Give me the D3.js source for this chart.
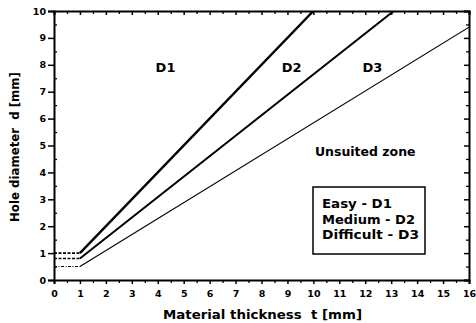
<!DOCTYPE html>
<html><head><meta charset="utf-8">
<script src="https://cdn.jsdelivr.net/npm/d3@7"></script>
<style>
body{margin:0;background:#fff;}
text{font-family:"DejaVu Sans",sans-serif;font-weight:bold;fill:#000;}
</style></head>
<body><svg id="c" width="476" height="323"></svg>
<script>
const xTicks = [0,1,2,3,4,5,6,7,8,9,10,11,12,13,14,15,16];
const yTicks = [0,1,2,3,4,5,6,7,8,9,10];
const seriesNames = ["D1","D2","D3"];
const flatT = [0,1];
const flatD1 = [1.0,1.0];
const flatD2 = [0.8,0.8];
const flatD3 = [0.5,0.5];
const slopeT1 = [1,10];
const slopeD1 = [1.0,10];
const slopeT2 = [1,13.1];
const slopeD2 = [0.8,10];
const slopeT3 = [1,16];
const slopeD3 = [0.5,9.4];
const legendLabels = ["Easy - D1","Medium - D2","Difficult - D3"];
const zoneLabels = [{t:"D1",x:4.3,y:7.75},{t:"D2",x:9.16,y:7.75},{t:"D3",x:12.28,y:7.75},{t:"Unsuited zone",x:12.0,y:4.62}];

const svg = d3.select("#c");
const m = {l:54,r:7,t:11,b:43};
const W = 476, H = 323;
const x = d3.scaleLinear().domain([0,16]).range([m.l, W-m.r]);
const y = d3.scaleLinear().domain([0,10]).range([H-m.b, m.t]);

const g = svg.append("g");
svg.append("clipPath").attr("id","cp").append("rect")
  .attr("x",m.l).attr("y",m.t).attr("width",W-m.l-m.r).attr("height",H-m.t-m.b);

const minorX = d3.range(0,16.01,0.5).filter(v=>v%1!==0);
const minorY = d3.range(0,10.01,0.5).filter(v=>v%1!==0);

const axB = d3.axisBottom(x).tickValues(xTicks).tickSize(4).tickPadding(6).tickFormat(d3.format("d"));
const axL = d3.axisLeft(y).tickValues(yTicks).tickSize(6).tickPadding(2).tickFormat(d3.format("d"));
const axT = d3.axisTop(x).tickValues(xTicks).tickSize(-4).tickFormat("");
const axR = d3.axisRight(y).tickValues(yTicks).tickSize(-5).tickFormat("");

function style(sel){
  sel.select(".domain").attr("stroke","#000").attr("stroke-width",2);
  sel.selectAll(".tick line").attr("stroke","#000").attr("stroke-width",1.5);
  sel.selectAll("text").style("font-size","9.5px").style("font-family","DejaVu Sans").style("font-weight","bold");
}
style(g.append("g").attr("transform",`translate(0,${H-m.b})`).call(axB));
style(g.append("g").attr("transform",`translate(${m.l},0)`).call(axL));
style(g.append("g").attr("transform",`translate(0,${m.t})`).call(axT));
style(g.append("g").attr("transform",`translate(${W-m.r},0)`).call(axR));
function minor(sel){sel.select(".domain").remove();sel.selectAll(".tick line").attr("stroke","#000").attr("stroke-width",1.3);}
minor(g.append("g").attr("transform",`translate(0,${H-m.b})`).call(d3.axisBottom(x).tickValues(minorX).tickSize(3).tickFormat("")));
minor(g.append("g").attr("transform",`translate(0,${m.t})`).call(d3.axisTop(x).tickValues(minorX).tickSize(-3).tickFormat("")));
minor(g.append("g").attr("transform",`translate(${m.l},0)`).call(d3.axisLeft(y).tickValues(minorY).tickSize(-3).tickFormat("")));
minor(g.append("g").attr("transform",`translate(${W-m.r},0)`).call(d3.axisRight(y).tickValues(minorY).tickSize(-3).tickFormat("")));

const line = d3.line().x(d=>x(d[0])).y(d=>y(d[1]));
const lg = svg.append("g").attr("clip-path","url(#cp)");
const flats = [flatD1,flatD2,flatD3];
const slopesT = [slopeT1,slopeT2,slopeT3];
const slopesD = [slopeD1,slopeD2,slopeD3];
const widths = [2.4,2.0,1.1];
const flatDash = ["3,1.5","3,1.5","3,1.5,1,1.5"];
flats.forEach((f,i)=>{
  lg.append("path").datum(flatT.map((t,j)=>[t,f[j]])).attr("d",line)
    .attr("fill","none").attr("stroke","#000").attr("stroke-width",Math.min(widths[i],1.6)).attr("stroke-dasharray",flatDash[i]);
  lg.append("path").datum(slopesT[i].map((t,j)=>[t,slopesD[i][j]])).attr("d",line)
    .attr("fill","none").attr("stroke","#000").attr("stroke-width",widths[i]);
});

zoneLabels.forEach(z=>{
  svg.append("text").attr("x",x(z.x)).attr("y",y(z.y)).attr("text-anchor","middle")
    .style("font-size", z.t.length>3 ? "12.5px" : "13px").text(z.t);
});

svg.append("rect").attr("x",313).attr("y",187).attr("width",112).attr("height",67)
  .attr("fill","#fff").attr("stroke","#000").attr("stroke-width",1.5);
const legendLens = [70,93,97];
legendLabels.forEach((l,i)=>{
  svg.append("text").attr("x",322).attr("y",208+i*15.5).style("font-size","11.5px")
    .style("font-weight","bold").attr("textLength",legendLens[i]).attr("lengthAdjust","spacingAndGlyphs").text(l);
});

svg.append("text").attr("x",262.5).attr("y",319).attr("text-anchor","middle")
  .style("font-size","12.5px").attr("xml:space","preserve")
  .attr("textLength",199).attr("lengthAdjust","spacingAndGlyphs").text("Material thickness  t [mm]");
svg.append("text").attr("transform",`translate(19,147) rotate(-90)`).attr("text-anchor","middle")
  .style("font-size","12px").attr("xml:space","preserve")
  .attr("textLength",150).attr("lengthAdjust","spacingAndGlyphs").text("Hole diameter  d [mm]");
</script></body></html>
